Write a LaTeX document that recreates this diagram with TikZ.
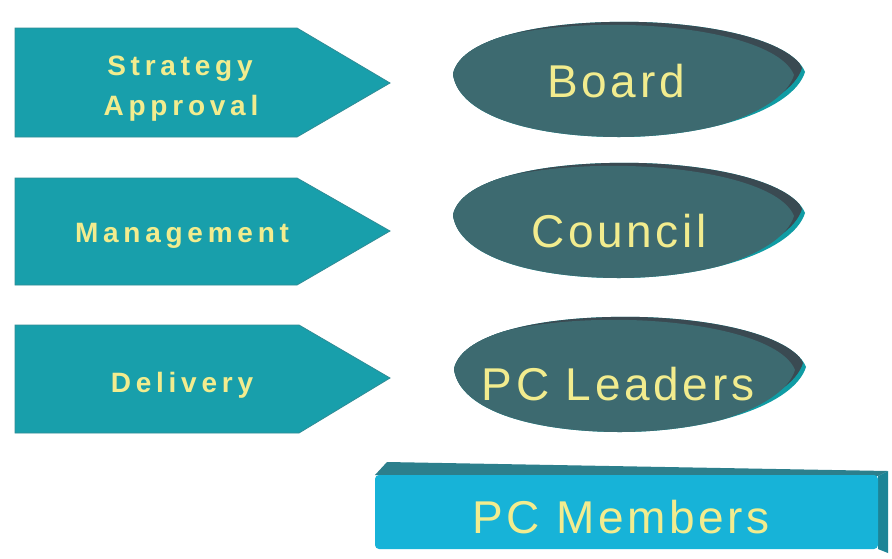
\documentclass[tikz,border=0pt]{standalone}
\usepackage{fontspec}
\setmainfont{Liberation Sans}
\newfontfamily\labelfont[LetterSpace=17]{Liberation Sans}
\newfontfamily\roleface[LetterSpace=8]{Liberation Sans}
\begin{document}
\begin{tikzpicture}[x=1pt,y=-1pt,
  stage/.style={fill=arrowteal, draw=arrowedge, line width=0.8pt, line join=miter},
  stagetext/.style={text=labelyellow, font=\labelfont\bfseries\fontsize{28}{33}\selectfont, anchor=base, inner sep=0pt},
  roletext/.style={text=labelyellow, font=\roleface\fontsize{46}{52}\selectfont, anchor=base, inner sep=0pt}]

\definecolor{arrowteal}{HTML}{189FAB}
\definecolor{arrowedge}{HTML}{2F8C96}
\definecolor{labelyellow}{HTML}{F2EC8E}
\definecolor{lensface}{HTML}{3D6A70}
\definecolor{lensdark}{HTML}{3A4A52}
\definecolor{lensrim}{HTML}{109CA4}
\definecolor{slabfront}{HTML}{17B3D8}
\definecolor{slabtop}{HTML}{2C7F8C}
\definecolor{slabside}{HTML}{1D8496}

% canvas
\fill[white] (0,0) rectangle (892,558);
\useasboundingbox (0,0) rectangle (892,558);

% pentagon arrows on the left
\draw[stage] (15,28)  -- (297,28)  -- (390,83)  -- (297,137) -- (15,137) -- cycle;
\draw[stage] (15,178) -- (297,178) -- (390,231) -- (297,285) -- (15,285) -- cycle;
\draw[stage] (15,325) -- (299,325) -- (390,378) -- (299,433) -- (15,433) -- cycle;

\node[stagetext] (strategy)   at (180,75)  {Strategy};
\node[stagetext] (approval)   at (181,115) {Approval};
\node[stagetext] (management) at (182,242) {Management};
\node[stagetext] (delivery)   at (182,392) {Delivery};

% lens-shaped bodies
\def\lenspath{(-176,-6) .. controls (-168,-44) and (-80,-60) .. (10,-58)
   .. controls (90,-56) and (164,-38) .. (176,-8)
   .. controls (164,30) and (80,57) .. (-10,57)
   .. controls (-90,57) and (-170,38) .. (-176,-6) -- cycle}

\foreach \cx/\cy in {629/80, 629/221, 630/375} {
  \begin{scope}[shift={(\cx,\cy)}]
    \begin{scope}
      \clip \lenspath;
      \fill[lensrim] (-190,-70) rectangle (190,70);
      \fill[lensdark, shift={(-3,-4)}] \lenspath;
      \fill[lensface, shift={(-11,3)}] \lenspath;
    \end{scope}
  \end{scope}
}

\node[roletext] (board)   at (616,97)  {Board};
\node[roletext] (council) at (619,247) {Council};
\node[roletext] (leaders) at (618,400) {PC Leaders};

% bottom slab
\fill[slabtop]   (387,462) -- (888,471) -- (878,476) -- (375,475) -- cycle;
\fill[slabside]  (878,476) -- (888,471) -- (888,553) -- (878,549) -- cycle;
\fill[slabfront, rounded corners=4pt] (375,475) rectangle (878,549);

\node[roletext] (members) at (621,533) {PC Members};

\end{tikzpicture}
\end{document}
